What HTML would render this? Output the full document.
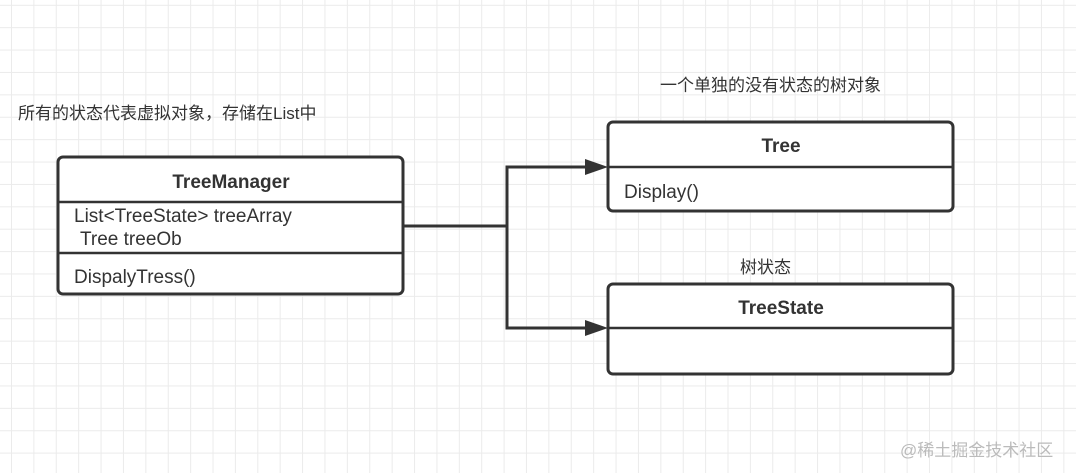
<!DOCTYPE html>
<html><head><meta charset="utf-8"><style>
html,body{margin:0;padding:0;}
body{width:1076px;height:473px;overflow:hidden;background:#fff;position:relative;font-family:"Liberation Sans","Noto Sans CJK SC",sans-serif;}
.grid{position:absolute;inset:0;background-image:linear-gradient(to right,#ebebeb 1px,transparent 1px),linear-gradient(to bottom,#ebebeb 1px,transparent 1px);background-size:22.4px 22.4px;background-position:11px 4.8px;}
.t{position:absolute;color:#333;font-size:17px;white-space:nowrap;line-height:1;}
</style></head><body>
<div class="grid"></div>
<svg width="1076" height="473" style="position:absolute;left:0;top:0" font-family="Liberation Sans, Noto Sans CJK SC, sans-serif">
<g fill="#fff" stroke="#333" stroke-width="3">
<rect x="58" y="157" width="345" height="137" rx="5"/>
<rect x="608" y="122" width="345" height="89" rx="5"/>
<rect x="608" y="284" width="345" height="90" rx="5"/>
</g>
<g stroke="#333" stroke-width="2.5">
<line x1="58" y1="202" x2="403" y2="202"/>
<line x1="58" y1="253" x2="403" y2="253"/>
<line x1="608" y1="167" x2="953" y2="167"/>
<line x1="608" y1="328" x2="953" y2="328"/>
</g>
<g stroke="#333" stroke-width="3" fill="none">
<polyline points="404,226 507,226"/>
<polyline points="588,167 507,167 507,328 588,328"/>
</g>
<g fill="#333">
<polygon points="608,167 585,159 585,175"/>
<polygon points="608,328 585,320 585,336"/>
</g>
<g fill="#333" font-size="19" font-weight="bold" text-anchor="middle">
<text x="231" y="188">TreeManager</text>
<text x="781" y="152">Tree</text>
<text x="781" y="314">TreeState</text>
</g>
<g fill="#333" font-size="19">
<text x="74" y="222">List&lt;TreeState&gt; treeArray</text>
<text x="80" y="245">Tree treeOb</text>
<text x="74" y="283">DispalyTress()</text>
<text x="624" y="198">Display()</text>
</g>
</svg>
<div class="t" style="left:18px;top:105px;">所有的状态代表虚拟对象，存储在List中</div>
<div class="t" style="left:660px;top:77px;">一个单独的没有状态的树对象</div>
<div class="t" style="left:740px;top:259px;">树状态</div>
<div class="t" style="left:900px;top:442px;color:#bbb;font-size:17px;">@稀土掘金技术社区</div>
</body></html>
